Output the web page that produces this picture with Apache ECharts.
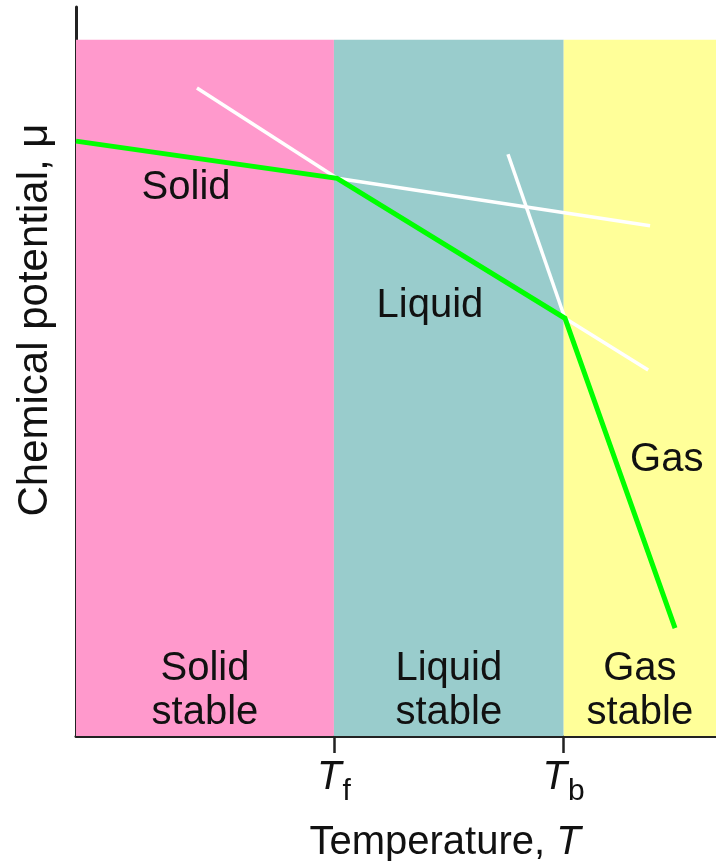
<!DOCTYPE html>
<html>
<head>
<meta charset="utf-8">
<style>
  html, body { margin: 0; padding: 0; background: #ffffff; }
  #chart { width: 716px; height: 861px; }
</style>
<script src="https://cdn.jsdelivr.net/npm/echarts@6/dist/echarts.min.js"></script>
</head>
<body>
<div id="chart"></div>
<script>
// ---- data (arbitrary units: temperature 0..100, chemical potential 0..100) ----
const tempMin = 0, tempMax = 100;
const muMin = 0, muMax = 100;
const bandTop = 95.5;
const Tf = 40.3;            // melting (fusion) temperature
const Tb = 76.2;            // boiling temperature
const tickValues = [Tf, Tb];
const tickSubscripts = ['f', 'b'];

// stable (lowest) chemical potential: solid -> liquid -> gas
const stableCurve = [[0, 81.6], [40.8, 76.5], [76.4, 57.3], [93.6, 14.8]];
// metastable extensions (white)
const solidExtension = [[40.8, 76.5], [89.7, 70.0]];
const liquidExtensionLow = [[18.9, 88.9], [40.8, 76.5]];
const liquidExtensionHigh = [[76.4, 57.3], [89.4, 50.2]];
const gasExtension = [[67.5, 79.8], [76.4, 57.3]];

const bandNames = ['Solid\nstable', 'Liquid\nstable', 'Gas\nstable'];
const bandEdges = [tempMin, Tf, Tb, tempMax];
const bandColors = ['#FF99CC', '#99CCCC', '#FFFF99'];

const phaseNames = ['Solid', 'Liquid', 'Gas'];
const phaseLabelAt = [[17.2, 75.2], [55.3, 59.0], [92.3, 37.9]];

// ---- chart ----
const FONT = '"Liberation Sans", Arial, Helvetica, sans-serif';
const TEXT = '#111111';
const chart = echarts.init(document.getElementById('chart'), null, { renderer: 'canvas' });

const whiteLine = (data) => ({
  type: 'line', data, showSymbol: false, silent: true, z: 3, clip: false,
  lineStyle: { color: '#FFFFFF', width: 3.5 }
});

const option = {
  animation: false,
  backgroundColor: '#FFFFFF',
  grid: { left: 76, right: 0, top: 7, bottom: 125, outerBoundsMode: 'none', containLabel: false },
  xAxis: {
    type: 'value', min: tempMin, max: tempMax,
    splitLine: { show: false },
    axisLine: { show: true, lineStyle: { color: '#222222', width: 3 } },
    axisTick: { show: true, customValues: tickValues, length: 17, lineStyle: { color: '#222222', width: 2.5 } },
    axisLabel: {
      show: true, customValues: tickValues, margin: 26,
      formatter: (v) => {
        const i = tickValues.indexOf(v);
        return '{T|T}{s|' + (i >= 0 ? tickSubscripts[i] : '') + '}';
      },
      rich: {
        T: { fontFamily: FONT, fontSize: 40, fontStyle: 'italic', color: TEXT, lineHeight: 40, padding: [0, 0, 9, 0] },
        s: { fontFamily: FONT, fontSize: 30, color: TEXT, lineHeight: 30, padding: [19, 0, 0, 1] }
      }
    }
  },
  yAxis: {
    type: 'value', min: muMin, max: muMax,
    splitLine: { show: false },
    axisLine: { show: true, lineStyle: { color: '#222222', width: 3 } },
    axisTick: { show: false },
    axisLabel: { show: false }
  },
  graphic: [
    {
      type: 'text', x: 445, y: 843, silent: true,
      style: {
        text: '{n|Temperature, }{i|T}', align: 'center', verticalAlign: 'middle',
        rich: {
          n: { fontFamily: FONT, fontSize: 40, fill: TEXT },
          i: { fontFamily: FONT, fontSize: 40, fontStyle: 'italic', fill: TEXT }
        }
      }
    },
    {
      type: 'text', x: 35, y: 320, rotation: Math.PI / 2, silent: true,
      style: {
        text: 'Chemical potential, μ', align: 'center', verticalAlign: 'middle',
        fontFamily: FONT, fontSize: 42, fill: TEXT
      }
    }
  ],
  series: [
    {
      type: 'line', data: [], silent: true, z: 1,
      markArea: {
        silent: true,
        data: bandNames.map((name, i) => [
          { name, xAxis: bandEdges[i], yAxis: muMin, itemStyle: { color: bandColors[i], opacity: 1 } },
          { xAxis: bandEdges[i + 1], yAxis: bandTop }
        ]),
        label: {
          show: true, position: 'insideBottom', distance: 1,
          fontFamily: FONT, fontSize: 40, lineHeight: 44, color: TEXT, align: 'center'
        },
        emphasis: { disabled: true }
      }
    },
    whiteLine(liquidExtensionLow),
    whiteLine(solidExtension),
    whiteLine(gasExtension),
    whiteLine(liquidExtensionHigh),
    {
      type: 'line', data: stableCurve, showSymbol: false, silent: true, z: 4, clip: false,
      lineStyle: { color: '#00FF00', width: 5, join: 'miter' }
    },
    {
      type: 'scatter', silent: true, z: 5, symbolSize: 0,
      itemStyle: { opacity: 1, color: 'rgba(0,0,0,0)' },
      data: phaseLabelAt.map((p, i) => ({ value: p, name: phaseNames[i] })),
      label: {
        show: true, position: 'inside', formatter: (p) => p.name,
        fontFamily: FONT, fontSize: 40, color: TEXT, opacity: 1,
        textBorderWidth: 0
      },
      emphasis: { disabled: true }
    }
  ]
};
chart.setOption(option);
</script>
</body>
</html>
